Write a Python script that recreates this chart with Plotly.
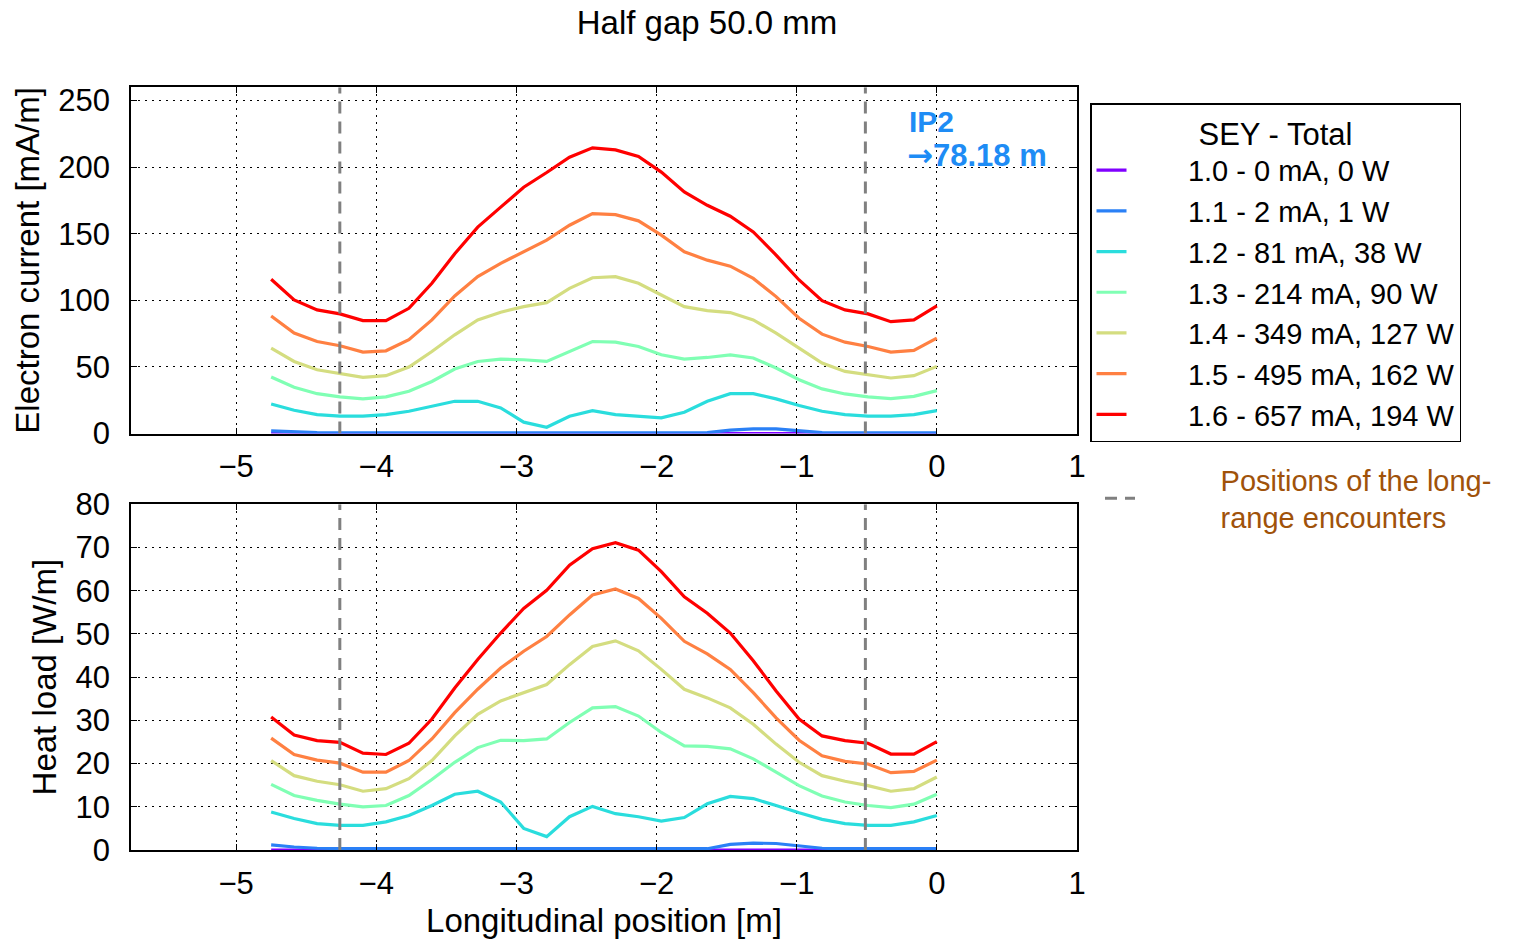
import plotly.graph_objects as go

# ---------------- data ----------------
x_pos = [-4.750, -4.586, -4.422, -4.259, -4.095, -3.931, -3.767, -3.603, -3.440, -3.276,
         -3.112, -2.948, -2.784, -2.621, -2.457, -2.293, -2.129, -1.966, -1.802, -1.638,
         -1.474, -1.310, -1.147, -0.983, -0.819, -0.655, -0.491, -0.328, -0.164, 0.000]

sey_labels = ["1.0 - 0 mA, 0 W", "1.1 - 2 mA, 1 W", "1.2 - 81 mA, 38 W", "1.3 - 214 mA, 90 W",
              "1.4 - 349 mA, 127 W", "1.5 - 495 mA, 162 W", "1.6 - 657 mA, 194 W"]
sey_colors = ["#8000ff", "#2a80f6", "#2adddd", "#80ffb4", "#d4dd80", "#ff8042", "#ff0000"]

# Electron current [mA/m]
cur_10 = [0.0, 0.0, 0.0, 0.0, 0.0, 0.0, 0.0, 0.0, 0.0, 0.0, 0.0, 0.0, 0.0, 0.0, 0.0,
          0.0, 0.0, 0.0, 0.0, 0.0, 0.1, 0.3, 0.3, 0.1, 0.0, 0.0, 0.0, 0.0, 0.0, 0.0]
cur_11 = [2.0, 1.0, 0.6, 0.5, 0.5, 0.5, 0.5, 0.5, 0.5, 0.5, 0.5, 0.4, 0.4, 0.4, 0.4,
          0.4, 0.4, 0.4, 0.5, 0.6, 2.5, 3.5, 3.5, 2.0, 0.6, 0.5, 0.5, 0.5, 0.5, 0.5]
cur_12 = [22.2, 17.5, 14.2, 13.0, 13.0, 14.2, 16.7, 20.5, 24.2, 24.2, 19.2, 8.5, 4.7, 13.0, 17.2,
          14.2, 13.0, 11.7, 16.0, 24.2, 29.9, 29.9, 26.0, 21.0, 16.7, 14.2, 13.0, 13.0, 14.2, 17.2]
cur_13 = [42.4, 34.7, 29.9, 27.5, 26.0, 27.5, 31.7, 39.1, 48.4, 54.1, 55.9, 55.4, 54.1, 61.6, 69.1,
          68.6, 65.3, 59.1, 55.9, 57.1, 59.1, 56.7, 49.2, 40.4, 33.5, 29.7, 27.5, 26.2, 27.9, 32.2]
cur_14 = [64.1, 54.1, 47.9, 44.9, 42.2, 43.4, 49.9, 61.6, 74.1, 85.3, 91.1, 95.3, 98.3, 109.0, 117.0,
          117.8, 112.8, 104.0, 95.3, 92.3, 90.8, 85.3, 75.4, 64.1, 52.9, 46.6, 44.2, 41.7, 43.4, 50.4]
cur_15 = [88.3, 75.4, 69.1, 65.9, 61.1, 62.1, 70.4, 85.3, 103.3, 117.8, 127.8, 136.5, 145.2, 156.4, 165.2,
          164.4, 159.7, 149.0, 136.5, 130.2, 125.7, 116.5, 102.8, 86.6, 74.6, 68.6, 65.3, 61.1, 62.4, 71.6]
cur_16 = [115.8, 100.3, 92.8, 89.8, 84.8, 84.8, 94.0, 112.8, 135.0, 155.0, 170.0, 185.0, 196.0, 207.5, 214.5,
          213.0, 208.0, 196.3, 181.4, 171.4, 163.2, 151.4, 134.0, 115.3, 99.8, 92.8, 89.8, 84.0, 85.3, 95.8]

# Heat load [W/m]
heat_10 = [0.0, 0.0, 0.0, 0.0, 0.0, 0.0, 0.0, 0.0, 0.0, 0.0, 0.0, 0.0, 0.0, 0.0, 0.0,
           0.0, 0.0, 0.0, 0.0, 0.0, 0.0, 0.1, 0.1, 0.0, 0.0, 0.0, 0.0, 0.0, 0.0, 0.0]
heat_11 = [1.2, 0.7, 0.4, 0.3, 0.3, 0.3, 0.3, 0.3, 0.3, 0.3, 0.3, 0.3, 0.3, 0.3, 0.3,
           0.3, 0.3, 0.3, 0.3, 0.3, 1.3, 1.6, 1.5, 0.9, 0.4, 0.3, 0.3, 0.3, 0.3, 0.3]
heat_12 = [8.8, 7.3, 6.1, 5.7, 5.7, 6.5, 8.0, 10.3, 12.9, 13.6, 11.1, 5.0, 3.1, 7.7, 10.1,
           8.4, 7.7, 6.7, 7.5, 10.7, 12.4, 11.9, 10.3, 8.6, 7.1, 6.1, 5.7, 5.7, 6.5, 8.0]
heat_13 = [15.2, 12.6, 11.5, 10.6, 10.0, 10.3, 12.6, 16.3, 20.3, 23.7, 25.4, 25.3, 25.7, 29.5, 32.9,
           33.2, 31.0, 27.2, 24.1, 24.0, 23.4, 21.1, 18.0, 14.9, 12.5, 11.1, 10.3, 9.8, 10.6, 12.9]
heat_14 = [20.7, 17.2, 15.9, 15.1, 13.6, 14.2, 16.5, 20.7, 26.4, 31.4, 34.5, 36.4, 38.3, 42.9, 47.1,
           48.4, 46.1, 41.8, 37.2, 35.2, 32.9, 29.1, 24.5, 20.3, 17.2, 15.9, 14.9, 13.6, 14.2, 16.9]
heat_15 = [25.9, 22.1, 20.8, 20.1, 18.0, 18.0, 20.7, 25.7, 31.8, 37.2, 42.1, 46.0, 49.4, 54.4, 59.0,
           60.4, 58.2, 53.6, 48.3, 45.4, 41.8, 36.4, 30.6, 25.4, 21.8, 20.5, 19.9, 17.9, 18.2, 20.8]
heat_16 = [30.8, 26.6, 25.3, 24.9, 22.4, 22.1, 24.7, 30.3, 37.5, 44.1, 50.2, 55.9, 60.1, 65.9, 69.7,
           71.1, 69.4, 64.4, 58.6, 54.8, 50.2, 43.8, 36.8, 30.3, 26.4, 25.3, 24.7, 22.2, 22.2, 25.1]

current_series = [cur_10, cur_11, cur_12, cur_13, cur_14, cur_15, cur_16]
heat_series = [heat_10, heat_11, heat_12, heat_13, heat_14, heat_15, heat_16]

long_range_pos = [-4.26, -0.51]
cur_range = [0, 260]
heat_range = [0, 80]
x_ticks = [-5, -4, -3, -2, -1, 0, 1]

# ---------------- figure ----------------
W, H = 1526, 939
FONT = "Liberation Sans, Arial, sans-serif"
NB = "\u00a0"
fig = go.Figure()

for lbl, col, ys in zip(sey_labels, sey_colors, current_series):
    fig.add_trace(go.Scatter(x=x_pos, y=ys, mode="lines", name=NB * 7 + lbl,
                             line=dict(color=col, width=3.2), xaxis="x", yaxis="y",
                             legend="legend"))
for lbl, col, ys in zip(sey_labels, sey_colors, heat_series):
    fig.add_trace(go.Scatter(x=x_pos, y=ys, mode="lines", name=lbl, showlegend=False,
                             line=dict(color=col, width=3.2), xaxis="x2", yaxis="y2"))

lr_name = NB * 10 + "Positions of the long-<br>" + NB * 10 + "range encounters"
for k, xv in enumerate(long_range_pos):
    fig.add_trace(go.Scatter(x=[xv, xv], y=cur_range, mode="lines",
                             line=dict(color="#808080", width=3, dash="12px,8px"),
                             name=lr_name, showlegend=(k == 0), legend="legend2",
                             xaxis="x", yaxis="y"))
    fig.add_trace(go.Scatter(x=[xv, xv], y=heat_range, mode="lines",
                             line=dict(color="#808080", width=3, dash="12px,8px"),
                             showlegend=False, xaxis="x2", yaxis="y2"))

xdom = [131 / W, 1077 / W]
axis_common = dict(showline=True, linecolor="black", linewidth=1.5, mirror="ticks",
                   ticks="inside", ticklen=6, tickcolor="black", tickwidth=1.2,
                   showgrid=True, gridcolor="black", gridwidth=1, griddash="2px,5px",
                   zeroline=False, automargin=False,
                   tickfont=dict(size=31, color="black", family=FONT))

fig.update_layout(
    width=W, height=H,
    margin=dict(l=0, r=0, t=0, b=0, autoexpand=False),
    paper_bgcolor="white", plot_bgcolor="white",
    font=dict(family=FONT, color="black"),
    title=dict(text="Half gap 50.0 mm", x=707 / W, y=1 - 22 / H, xanchor="center",
               yanchor="middle", xref="paper", yref="container", automargin=False,
               font=dict(size=33, family=FONT, color="black")),
    xaxis=dict(domain=xdom, anchor="y", range=[-5.75, 1], tickvals=x_ticks,
               ticklabelstandoff=5, **axis_common),
    yaxis=dict(domain=[1 - 433.5 / H, 1 - 87.3 / H], anchor="x", range=cur_range, dtick=50,
               ticklabelstandoff=13,
               title=dict(text="Electron current [mA/m]", standoff=9,
                          font=dict(size=33, family=FONT)),
               **axis_common),
    xaxis2=dict(domain=xdom, anchor="y2", range=[-5.75, 1], tickvals=x_ticks,
                ticklabelstandoff=5,
                title=dict(text="Longitudinal position [m]", font=dict(size=33, family=FONT)),
                **axis_common),
    yaxis2=dict(domain=[1 - 850 / H, 1 - 504.3 / H], anchor="x2", range=heat_range, dtick=10,
                ticklabelstandoff=13,
                title=dict(text="Heat load [W/m]", standoff=9,
                           font=dict(size=33, family=FONT)),
                **axis_common),
    legend=dict(x=1090 / W, y=1 - 103 / H, xanchor="left", yanchor="top",
                bordercolor="black", borderwidth=1.5, bgcolor="white",
                font=dict(size=29, family=FONT, color="black"),
                title=dict(text="SEY - Total", side="top center",
                           font=dict(size=31, family=FONT, color="black"))),
    legend2=dict(x=1100 / W, y=1 - 454 / H, xanchor="left", yanchor="top",
                 bgcolor="rgba(0,0,0,0)", borderwidth=0,
                 font=dict(size=29, family=FONT, color="#a0520a")),
    showlegend=True,
)

fig.add_annotation(x=-0.21, y=234, xref="x", yref="y", xanchor="left", yanchor="middle",
                   align="left", showarrow=False, text="<b>IP2</b>",
                   font=dict(size=30, family=FONT, color="#1e8cf5"))
fig.add_annotation(x=-0.23, y=209, xref="x", yref="y", xanchor="left", yanchor="middle",
                   align="left", showarrow=False,
                   text="<span style='font-family:DejaVu Sans'><b>\u2192</b></span><b>78.18 m</b>",
                   font=dict(size=31, family=FONT, color="#1e8cf5"))

fig.write_html("out.html")
